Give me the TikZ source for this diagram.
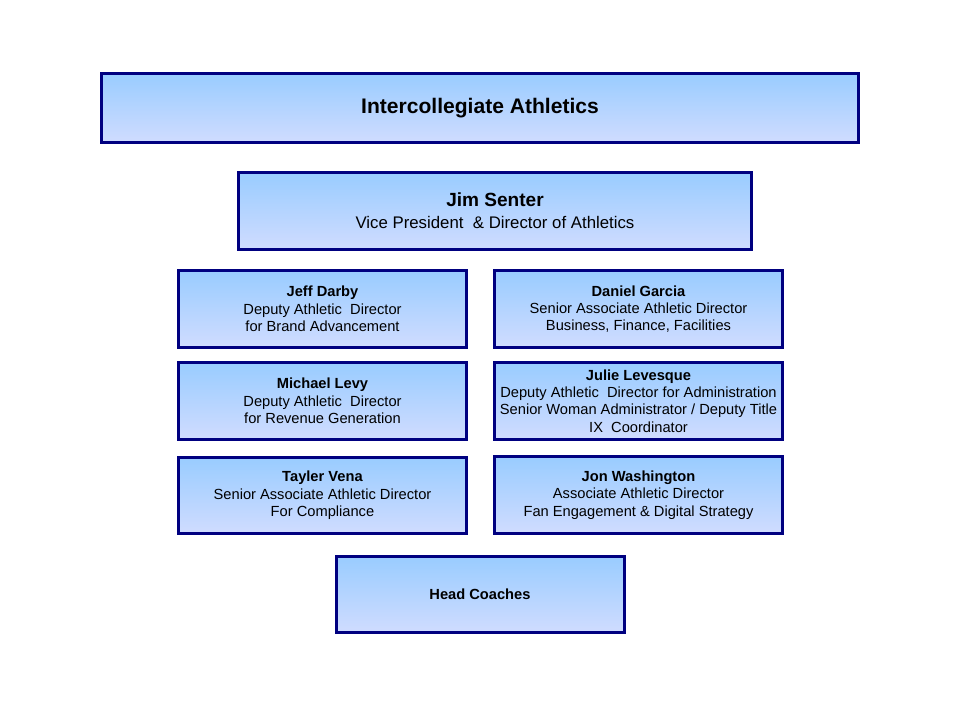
\documentclass[tikz,border=0pt]{standalone}
\usepackage{fontspec}
\setmainfont{Liberation Sans}
\usepackage{xcolor}
\usepackage{tikz}
\definecolor{boxline}{RGB}{0,0,128}
\definecolor{boxtop}{RGB}{153,204,255}
\definecolor{boxbot}{RGB}{208,220,255}

\begin{document}
\begin{tikzpicture}[
  x=0.75pt, y=-0.75pt,
  box/.style={rectangle, draw=boxline, line width=2.25pt, top color=boxtop, bottom color=boxbot, align=center, inner sep=0pt},
  small/.style={box, minimum width=216pt, minimum height=57.5pt, font={\fontsize{11}{13}\selectfont}}
]
\useasboundingbox (0,0) rectangle (960,720);

\node[box, minimum width=568pt, minimum height=52pt, font={\fontsize{15.8}{18}\selectfont\bfseries}] (top) at (480,108) {Intercollegiate Athletics};
\node[box, minimum width=385pt, minimum height=58pt, font={\fontsize{12.6}{16.5}\selectfont}] (vp) at (495,211) {{\fontsize{14.3}{16.5}\selectfont\bfseries Jim Senter}\\Vice President \ \& Director of Athletics};

\node[small] (darby) at (322.5,309) {\textbf{Jeff Darby}\\Deputy Athletic \ Director\\for Brand Advancement};
\node[small] (garcia) at (638.5,309) {\textbf{Daniel Garcia}\\Senior Associate Athletic Director\\Business, Finance, Facilities};
\node[small] (levy) at (322.5,401) {\textbf{Michael Levy}\\Deputy Athletic \ Director\\for Revenue Generation};
\node[small] (levesque) at (638.5,401) {\textbf{Julie Levesque}\\Deputy Athletic \ Director for Administration\\Senior Woman Administrator / Deputy Title\\IX \ Coordinator};
\node[small] (vena) at (322.5,495.5) {\textbf{Tayler Vena}\\Senior Associate Athletic Director\\For Compliance};
\node[small] (washington) at (638.5,495) {\textbf{Jon Washington}\\Associate Athletic Director\\Fan Engagement \& Digital Strategy};

\node[small, font={\fontsize{11}{13}\selectfont\bfseries}] (coaches) at (480,594.5) {Head Coaches};
\end{tikzpicture}
\end{document}
